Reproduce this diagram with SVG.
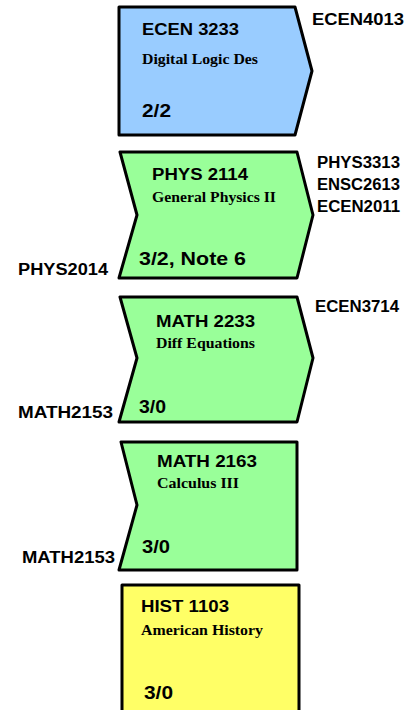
<svg xmlns="http://www.w3.org/2000/svg" width="411" height="710" viewBox="0 0 411 710">
<style>
.box{stroke:#000;stroke-width:3;stroke-linejoin:round}
.blue{fill:#99CCFF}.green{fill:#99FF99}.yellow{fill:#FFFF66}
.t{font-family:"Liberation Sans",Arial,sans-serif;font-weight:bold;font-size:16px;fill:#000}
.s{font-family:"Liberation Serif","Times New Roman",serif;font-weight:bold;font-size:15px;fill:#000}
.c{font-family:"Liberation Sans",Arial,sans-serif;font-weight:bold;font-size:18.5px;fill:#000}
.l{font-family:"Liberation Sans",Arial,sans-serif;font-weight:bold;font-size:16px;fill:#000}
</style>
<rect width="411" height="710" fill="#fff"/>
<g id="ECEN3233">
<polygon class="box blue" points="119,7 295,7 312,71 295,135 119,135"/>
<text class="t" x="142" y="35" textLength="97" lengthAdjust="spacingAndGlyphs">ECEN 3233</text>
<text class="s" x="142" y="64" textLength="116" lengthAdjust="spacingAndGlyphs">Digital Logic Des</text>
<text class="c" x="142" y="117" textLength="29" lengthAdjust="spacingAndGlyphs">2/2</text>
<text class="l" x="312" y="25" textLength="92" lengthAdjust="spacingAndGlyphs">ECEN4013</text>
</g>
<g id="PHYS2114">
<polygon class="box green" points="120,152 297,152 313,215 297,278 119,278 137,215"/>
<text class="t" x="152" y="180" textLength="96" lengthAdjust="spacingAndGlyphs">PHYS 2114</text>
<text class="s" x="152" y="202" textLength="124" lengthAdjust="spacingAndGlyphs">General Physics II</text>
<text class="c" x="139" y="265" textLength="107" lengthAdjust="spacingAndGlyphs">3/2, Note 6</text>
<text class="l" x="18" y="275" textLength="90" lengthAdjust="spacingAndGlyphs">PHYS2014</text>
<text class="l" x="317" y="168" textLength="83" lengthAdjust="spacingAndGlyphs">PHYS3313</text>
<text class="l" x="317" y="190" textLength="83" lengthAdjust="spacingAndGlyphs">ENSC2613</text>
<text class="l" x="317" y="212" textLength="83" lengthAdjust="spacingAndGlyphs">ECEN2011</text>
</g>
<g id="MATH2233">
<polygon class="box green" points="120,297 297,297 313,358 297,422 119,422 137,358"/>
<text class="t" x="156" y="327" textLength="99" lengthAdjust="spacingAndGlyphs">MATH 2233</text>
<text class="s" x="156" y="348" textLength="99" lengthAdjust="spacingAndGlyphs">Diff Equations</text>
<text class="c" x="139" y="413" textLength="27" lengthAdjust="spacingAndGlyphs">3/0</text>
<text class="l" x="18" y="418" textLength="95" lengthAdjust="spacingAndGlyphs">MATH2153</text>
<text class="l" x="315" y="312" textLength="84" lengthAdjust="spacingAndGlyphs">ECEN3714</text>
</g>
<g id="MATH2163">
<polygon class="box green" points="121,442 297,442 297,570 119,570 137,505"/>
<text class="t" x="157" y="467" textLength="100" lengthAdjust="spacingAndGlyphs">MATH 2163</text>
<text class="s" x="157" y="488" textLength="82" lengthAdjust="spacingAndGlyphs">Calculus III</text>
<text class="c" x="142" y="553" textLength="28" lengthAdjust="spacingAndGlyphs">3/0</text>
<text class="l" x="22" y="563" textLength="93" lengthAdjust="spacingAndGlyphs">MATH2153</text>
</g>
<g id="HIST1103">
<polygon class="box yellow" points="122,585 299,585 299,720 122,720"/>
<text class="t" x="141" y="612" textLength="88" lengthAdjust="spacingAndGlyphs">HIST 1103</text>
<text class="s" x="141" y="635" textLength="122" lengthAdjust="spacingAndGlyphs">American History</text>
<text class="c" x="144" y="699" textLength="29" lengthAdjust="spacingAndGlyphs">3/0</text>
</g>
<g id="connectors"></g>
</svg>
